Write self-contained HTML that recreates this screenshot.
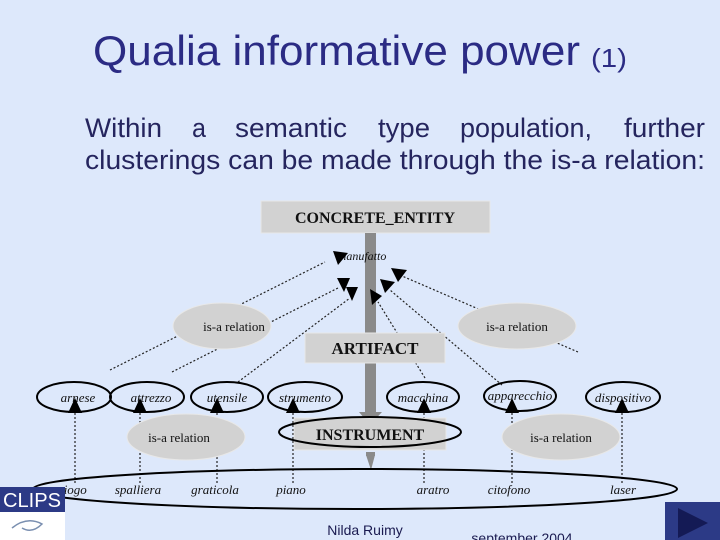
<!DOCTYPE html>
<html><head><meta charset="utf-8"><style>
html,body{margin:0;padding:0;background:#dde8fb;}
svg{display:block;}
</style></head><body>
<svg width="720" height="540" viewBox="0 0 720 540" xmlns="http://www.w3.org/2000/svg" font-family="Liberation Sans, sans-serif">
<rect width="720" height="540" fill="#dde8fb"/>
<text x="93" y="65" font-size="42" fill="#2b2b84" textLength="487" lengthAdjust="spacingAndGlyphs">Qualia informative power</text>
<text x="591" y="67" font-size="26" fill="#2b2b84" textLength="36" lengthAdjust="spacingAndGlyphs">(1)</text>
<g font-size="27" fill="#25255e" lengthAdjust="spacingAndGlyphs">
<text x="85" y="137" textLength="77" lengthAdjust="spacingAndGlyphs">Within</text>
<text x="192" y="137" textLength="14" lengthAdjust="spacingAndGlyphs">a</text>
<text x="235" y="137" textLength="112" lengthAdjust="spacingAndGlyphs">semantic</text>
<text x="378" y="137" textLength="52" lengthAdjust="spacingAndGlyphs">type</text>
<text x="460" y="137" textLength="132" lengthAdjust="spacingAndGlyphs">population,</text>
<text x="624" y="137" textLength="81" lengthAdjust="spacingAndGlyphs">further</text>
<text x="85" y="169" textLength="620" lengthAdjust="spacingAndGlyphs">clusterings can be made through the is-a relation:</text>
</g>
<g font-family="Liberation Serif, serif">
<g stroke="#222" stroke-width="1.2" stroke-dasharray="2,2" fill="none">
<line x1="110" y1="370" x2="325" y2="262"/>
<line x1="172" y1="372" x2="338" y2="288"/>
<line x1="238" y1="382" x2="350" y2="298"/>
<line x1="425" y1="378" x2="378" y2="302"/>
<line x1="502" y1="385" x2="390" y2="290"/>
<line x1="578" y1="352" x2="402" y2="276"/>
<line x1="75" y1="405" x2="75" y2="484"/>
<line x1="140" y1="405" x2="140" y2="484"/>
<line x1="217" y1="405" x2="217" y2="484"/>
<line x1="293" y1="405" x2="293" y2="484"/>
<line x1="424" y1="405" x2="424" y2="484"/>
<line x1="512" y1="405" x2="512" y2="484"/>
<line x1="622" y1="405" x2="622" y2="484"/>
</g>
<rect x="261" y="201" width="229" height="32" fill="#d2d2d2" stroke="#e8e8e8"/>
<text x="375" y="223" font-size="16" font-weight="bold" text-anchor="middle" fill="#111">CONCRETE_ENTITY</text>
<rect x="365" y="233" width="11" height="180" fill="#8a8a8a"/>
<polygon points="359,412 382,412 370,425" fill="#8a8a8a"/>
<rect x="366" y="452" width="9" height="4" fill="#8a8a8a"/>
<polygon points="366,455 375,455 371,470" fill="#8a8a8a"/>
<text x="362" y="260" font-size="12" font-style="italic" text-anchor="middle" fill="#111">manufatto</text>
<rect x="305" y="333" width="140" height="30" fill="#d2d2d2" stroke="#e8e8e8"/>
<text x="375" y="354" font-size="17" font-weight="bold" text-anchor="middle" fill="#111">ARTIFACT</text>
<rect x="294" y="418" width="152" height="32" fill="#d2d2d2" stroke="#e8e8e8"/>
<ellipse cx="370" cy="432" rx="91" ry="15" fill="none" stroke="#000" stroke-width="2"/>
<text x="370" y="440" font-size="16" font-weight="bold" text-anchor="middle" fill="#111">INSTRUMENT</text>
<g fill="#d2d2d2" stroke="#e8e8e8">
<ellipse cx="222" cy="326" rx="49" ry="23"/>
<ellipse cx="517" cy="326" rx="59" ry="23"/>
<ellipse cx="186" cy="437" rx="59" ry="23"/>
<ellipse cx="561" cy="437" rx="59" ry="23"/>
</g>
<g font-size="13" text-anchor="middle" fill="#111">
<text x="234" y="331">is-a relation</text>
<text x="517" y="331">is-a relation</text>
<text x="179" y="442">is-a relation</text>
<text x="561" y="442">is-a relation</text>
</g>
<g fill="#000">
<polygon points="333,251 348,253 338,265"/>
<polygon points="337,278 350,278 344,292"/>
<polygon points="346,287 358,287 352,301"/>
<polygon points="370,289 382,296 372,305"/>
<polygon points="380,279 395,282 385,293"/>
<polygon points="391,268 407,270 398,282"/>
<polygon points="68,413 82,413 75,398"/>
<polygon points="133,413 147,413 140,398"/>
<polygon points="210,413 224,413 217,398"/>
<polygon points="286,413 300,413 293,398"/>
<polygon points="417,413 431,413 424,398"/>
<polygon points="505,413 519,413 512,398"/>
<polygon points="615,413 629,413 622,398"/>
</g>
<g fill="none" stroke="#000" stroke-width="2">
<ellipse cx="74" cy="397" rx="37" ry="15"/>
<ellipse cx="147" cy="397" rx="37" ry="15"/>
<ellipse cx="227" cy="397" rx="36" ry="15"/>
<ellipse cx="305" cy="397" rx="37" ry="15"/>
<ellipse cx="423" cy="397" rx="36" ry="15"/>
<ellipse cx="520" cy="396" rx="36" ry="15"/>
<ellipse cx="623" cy="397" rx="37" ry="15"/>
<ellipse cx="355" cy="489" rx="322" ry="20"/>
</g>
<g font-size="13" font-style="italic" text-anchor="middle" fill="#111">
<text x="78" y="402">arnese</text>
<text x="151" y="402">attrezzo</text>
<text x="227" y="402">utensile</text>
<text x="305" y="402">strumento</text>
<text x="423" y="402">macchina</text>
<text x="520" y="400">apparecchio</text>
<text x="623" y="402">dispositivo</text>
<text x="72" y="494">giogo</text>
<text x="138" y="494">spalliera</text>
<text x="215" y="494">graticola</text>
<text x="291" y="494">piano</text>
<text x="433" y="494">aratro</text>
<text x="509" y="494">citofono</text>
<text x="623" y="494">laser</text>
</g>
</g>
<rect x="0" y="487" width="65" height="25" fill="#2c3a86"/>
<text x="32" y="507" font-size="20" fill="#ffffff" text-anchor="middle" textLength="58" lengthAdjust="spacingAndGlyphs">CLIPS</text>
<rect x="0" y="512" width="65" height="28" fill="#ffffff"/>
<path d="M12 528 q15 -12 30 -4 q-10 10 -20 4" stroke="#7a8fb0" fill="none" stroke-width="1.5"/>
<text x="365" y="535" font-size="14" text-anchor="middle" fill="#1a1a50">Nilda Ruimy</text>
<text x="522" y="543" font-size="14" text-anchor="middle" fill="#1a1a50">september 2004</text>
<rect x="665" y="502" width="55" height="38" fill="#2c3a86"/>
<polygon points="678,508 678,538 708,523" fill="#141a55"/>
</svg>
</body></html>
